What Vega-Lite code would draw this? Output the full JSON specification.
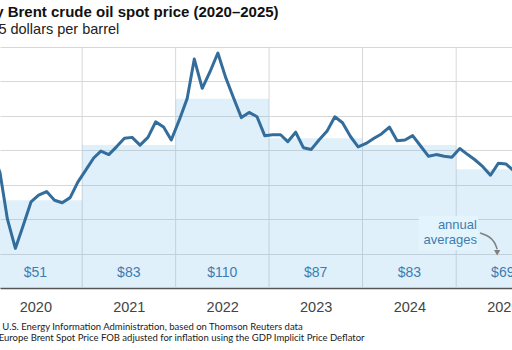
{
  "$schema": "https://vega.github.io/schema/vega-lite/v6.json",
  "width": 512,
  "height": 241,
  "autosize": "none",
  "padding": {"left": 0, "top": 47, "right": 0, "bottom": 62},
  "background": "white",
  "title": {
    "text": "Monthly Brent crude oil spot price (2020–2025)",
    "subtitle": "real 2025 dollars per barrel",
    "anchor": "start",
    "frame": "group",
    "dx": -54,
    "offset": 10,
    "font": "Liberation Sans",
    "fontSize": 15,
    "fontWeight": "bold",
    "color": "#111111",
    "subtitleFont": "Liberation Sans",
    "subtitleFontSize": 14.5,
    "subtitleColor": "#222222",
    "subtitlePadding": 3
  },
  "config": {"view": {"stroke": null}},
  "datasets": {
    "monthly": [
      {"date": "2020-01-15", "value": 80}, {"date": "2020-02-15", "value": 67}, {"date": "2020-03-15", "value": 40},
      {"date": "2020-04-15", "value": 23}, {"date": "2020-05-15", "value": 36}, {"date": "2020-06-15", "value": 50},
      {"date": "2020-07-15", "value": 54}, {"date": "2020-08-15", "value": 56}, {"date": "2020-09-15", "value": 51},
      {"date": "2020-10-15", "value": 49.5}, {"date": "2020-11-15", "value": 52.5}, {"date": "2020-12-15", "value": 61.5},
      {"date": "2021-01-15", "value": 68.5}, {"date": "2021-02-15", "value": 75.5}, {"date": "2021-03-15", "value": 79.5},
      {"date": "2021-04-15", "value": 77.5}, {"date": "2021-05-15", "value": 82}, {"date": "2021-06-15", "value": 87},
      {"date": "2021-07-15", "value": 87.5}, {"date": "2021-08-15", "value": 83}, {"date": "2021-09-15", "value": 87.5},
      {"date": "2021-10-15", "value": 96.5}, {"date": "2021-11-15", "value": 93.5}, {"date": "2021-12-15", "value": 86},
      {"date": "2022-01-15", "value": 97.5}, {"date": "2022-02-15", "value": 110}, {"date": "2022-03-15", "value": 133},
      {"date": "2022-04-15", "value": 116}, {"date": "2022-05-15", "value": 125.5}, {"date": "2022-06-15", "value": 136.5},
      {"date": "2022-07-15", "value": 122.5}, {"date": "2022-08-15", "value": 110.5}, {"date": "2022-09-15", "value": 99},
      {"date": "2022-10-15", "value": 102}, {"date": "2022-11-15", "value": 99.5}, {"date": "2022-12-15", "value": 88.5},
      {"date": "2023-01-15", "value": 89}, {"date": "2023-02-15", "value": 89}, {"date": "2023-03-15", "value": 85},
      {"date": "2023-04-15", "value": 90.5}, {"date": "2023-05-15", "value": 81.5}, {"date": "2023-06-15", "value": 80.5},
      {"date": "2023-07-15", "value": 86}, {"date": "2023-08-15", "value": 91}, {"date": "2023-09-15", "value": 99.5},
      {"date": "2023-10-15", "value": 96}, {"date": "2023-11-15", "value": 88}, {"date": "2023-12-15", "value": 82},
      {"date": "2024-01-15", "value": 84}, {"date": "2024-02-15", "value": 87}, {"date": "2024-03-15", "value": 89.5},
      {"date": "2024-04-15", "value": 93.5}, {"date": "2024-05-15", "value": 85.5}, {"date": "2024-06-15", "value": 86},
      {"date": "2024-07-15", "value": 88.5}, {"date": "2024-08-15", "value": 82.5}, {"date": "2024-09-15", "value": 76.5},
      {"date": "2024-10-15", "value": 77.5}, {"date": "2024-11-15", "value": 76.5}, {"date": "2024-12-15", "value": 76},
      {"date": "2025-01-15", "value": 81}, {"date": "2025-02-15", "value": 77.5}, {"date": "2025-03-15", "value": 74.5},
      {"date": "2025-04-15", "value": 70.5}, {"date": "2025-05-15", "value": 65.5}, {"date": "2025-06-15", "value": 72.5},
      {"date": "2025-07-15", "value": 72}, {"date": "2025-08-15", "value": 68}, {"date": "2025-09-15", "value": 68},
      {"date": "2025-10-15", "value": 64}
    ],
    "annual": [
      {"start": "2020-01-01", "end": "2021-01-01", "mid": "2020-07-02", "avg": 51, "label": "$51"},
      {"start": "2021-01-01", "end": "2022-01-01", "mid": "2021-07-02", "avg": 83, "label": "$83"},
      {"start": "2022-01-01", "end": "2023-01-01", "mid": "2022-07-02", "avg": 110, "label": "$110"},
      {"start": "2023-01-01", "end": "2024-01-01", "mid": "2023-07-02", "avg": 87, "label": "$87"},
      {"start": "2024-01-01", "end": "2025-01-01", "mid": "2024-07-02", "avg": 83, "label": "$83"},
      {"start": "2025-01-01", "end": "2026-01-01", "mid": "2025-07-02", "avg": 69, "label": "$69"}
    ],
    "years": [
      {"date": "2021-01-01"}, {"date": "2022-01-01"}, {"date": "2023-01-01"}, {"date": "2024-01-01"}, {"date": "2025-01-01"}
    ],
    "notebox": [
      {"x1": "2024-08-08", "x2": "2025-03-28", "y1": 22, "y2": 42}
    ],
    "note": [
      {"date": "2025-03-23", "value": 40, "text": "annual\naverages"}
    ],
    "arrow": [
      {"date": "2025-04-04", "value": 32, "k": 1},
      {"date": "2025-05-09", "value": 30.2, "k": 2},
      {"date": "2025-06-01", "value": 26.7, "k": 3},
      {"date": "2025-06-10", "value": 22.5, "k": 4}
    ],
    "arrowhead": [
      {"date": "2025-06-10", "value": 20.5}
    ]
  },
  "layer": [
    {
      "data": {"name": "years"},
      "mark": {"type": "rule", "stroke": "#d8d8d8", "strokeWidth": 1},
      "encoding": {
        "x": {
          "field": "date", "type": "temporal",
          "scale": {"type": "utc", "domain": [{"year": 2020, "month": 2, "date": 15, "utc": true}, {"year": 2025, "month": 8, "date": 7, "utc": true}]},
          "axis": {
            "values": [
              {"year": 2020, "month": 7, "date": 2, "utc": true},
              {"year": 2021, "month": 7, "date": 2, "utc": true},
              {"year": 2022, "month": 7, "date": 2, "utc": true},
              {"year": 2023, "month": 7, "date": 2, "utc": true},
              {"year": 2024, "month": 7, "date": 2, "utc": true},
              {"year": 2025, "month": 7, "date": 2, "utc": true}
            ],
            "format": "%Y",
            "labelOverlap": false,
            "labelBound": false,
            "labelFlush": false,
            "grid": false,
            "ticks": false,
            "domainColor": "#555555",
            "domainWidth": 1.5,
            "labelFont": "Liberation Sans",
            "labelFontSize": 14.5,
            "labelColor": "#444444",
            "labelPadding": 12,
            "title": ["Source: U.S. Energy Information Administration, based on Thomson Reuters data", "Notes: Europe Brent Spot Price FOB adjusted for inflation using the GDP Implicit Price Deflator"],
            "titleFont": "Lato",
            "titleFontSize": 9.5,
            "titleFontWeight": "normal",
            "titleColor": "#1a1a1a",
            "titleAnchor": "start",
            "titleAlign": "left",
            "titleX": -31.5,
            "titleLineHeight": 10.5,
            "titlePadding": 8
          }
        }
      }
    },
    {
      "data": {"name": "annual"},
      "mark": {"type": "rect", "fill": "#60b5ec", "fillOpacity": 0.2, "clip": true},
      "encoding": {
        "x": {"field": "start", "type": "temporal"},
        "x2": {"field": "end"},
        "y": {
          "field": "avg", "type": "quantitative",
          "scale": {"domain": [0, 140], "nice": false},
          "axis": {
            "values": [0, 20, 40, 60, 80, 100, 120, 140],
            "tickCount": 8,
            "grid": true,
            "gridColor": "#d8d8d8",
            "domain": false,
            "ticks": false,
            "labels": false,
            "title": null
          }
        },
        "y2": {"datum": 0}
      }
    },
    {
      "data": {"name": "monthly"},
      "mark": {"type": "line", "stroke": "#336d9c", "strokeWidth": 3, "strokeJoin": "round", "strokeCap": "round", "clip": true},
      "encoding": {
        "x": {"field": "date", "type": "temporal"},
        "y": {
          "field": "value", "type": "quantitative",
          "axis": {
            "values": [0, 20, 40, 60, 80, 100, 120, 140],
            "tickCount": 8,
            "grid": true,
            "gridColor": "#d8d8d8",
            "domain": false,
            "ticks": false,
            "labels": false,
            "title": null
          }
        }
      }
    },
    {
      "data": {"name": "annual"},
      "mark": {"type": "text", "font": "Liberation Sans", "fontSize": 14, "fill": "#3e7cb1", "align": "center", "baseline": "middle", "dy": -15},
      "encoding": {
        "x": {"field": "mid", "type": "temporal"},
        "y": {"datum": 0},
        "text": {"field": "label"}
      }
    },
    {
      "data": {"name": "notebox"},
      "mark": {"type": "rect", "fill": "#e4f4fd"},
      "encoding": {
        "x": {"field": "x1", "type": "temporal"},
        "x2": {"field": "x2"},
        "y": {"field": "y1", "type": "quantitative"},
        "y2": {"field": "y2"}
      }
    },
    {
      "data": {"name": "note"},
      "mark": {"type": "text", "font": "Liberation Sans", "fontSize": 13, "lineHeight": 15, "lineBreak": "\n", "fill": "#3e7cb1", "align": "right", "baseline": "top"},
      "encoding": {
        "x": {"field": "date", "type": "temporal"},
        "y": {"field": "value", "type": "quantitative"},
        "text": {"field": "text"}
      }
    },
    {
      "data": {"name": "arrow"},
      "mark": {"type": "line", "stroke": "#7f7f7f", "strokeWidth": 1.5, "interpolate": "basis"},
      "encoding": {
        "x": {"field": "date", "type": "temporal"},
        "y": {"field": "value", "type": "quantitative"},
        "order": {"field": "k"}
      }
    },
    {
      "data": {"name": "arrowhead"},
      "mark": {"type": "point", "shape": "triangle-down", "filled": true, "fill": "#7f7f7f", "size": 40, "opacity": 1},
      "encoding": {
        "x": {"field": "date", "type": "temporal"},
        "y": {"field": "value", "type": "quantitative"}
      }
    }
  ]
}
